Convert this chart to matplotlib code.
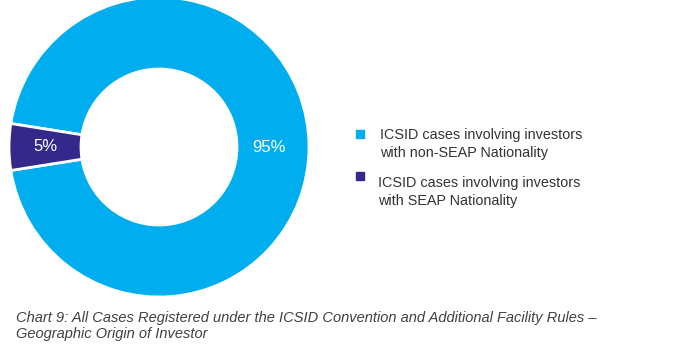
import numpy as np
import matplotlib.pyplot as plt
from matplotlib.patches import Rectangle

plt.rcParams['font.family'] = ['Liberation Sans', 'DejaVu Sans']

labels = ["ICSID cases involving investors\nwith non-SEAP Nationality",
          "ICSID cases involving investors\nwith SEAP Nationality"]
values = [95, 5]
pct_labels = ["95%", "5%"]
colors = ["#00aeef", "#34298a"]

caption = ("Chart 9: All Cases Registered under the ICSID Convention and Additional Facility Rules \u2013\n"
           "Geographic Origin of Investor")

W, H = 700, 352
fig = plt.figure(figsize=(W / 100, H / 100), dpi=100)

# donut: centre (159, 147) px from top-left, outer radius 150 px
cx, cy, r = 159, 147, 150
ax = fig.add_axes([(cx - r) / W, (H - cy - r) / H, 2 * r / W, 2 * r / H])
wedges, _ = ax.pie(values, colors=colors, startangle=189, counterclock=True,
                   radius=1, wedgeprops=dict(width=0.48, edgecolor="white", linewidth=2))
for w, t, rr in zip(wedges, pct_labels, [0.73, 0.76]):
    ang = np.deg2rad((w.theta1 + w.theta2) / 2)
    ax.text(rr * np.cos(ang), rr * np.sin(ang), t, color="white",
            fontsize=12, ha="center", va="center")
ax.set_xlim(-1, 1)
ax.set_ylim(-1, 1)
ax.set_aspect("equal")
ax.axis("off")

# legend (pixel positions, from top)
sq_y = [134, 175.5]
txt_y = [134, 182]
txt_x = [380, 378]
for sy, ty, tx, lab, c in zip(sq_y, txt_y, txt_x, labels, colors):
    fig.patches.append(Rectangle((356 / W, (H - sy - 4) / H), 8 / W, 8 / H,
                                 transform=fig.transFigure, color=c))
    fig.text(tx / W, (H - ty + 6) / H, lab, fontsize=10.4, color="#333333",
             va="top", ha="left", linespacing=1.33)

fig.text(16 / W, (H - 311) / H, caption, fontsize=10.5, style="italic",
         color="#404040", va="top", ha="left", linespacing=1.15)

fig.savefig("out.png", dpi=100)
